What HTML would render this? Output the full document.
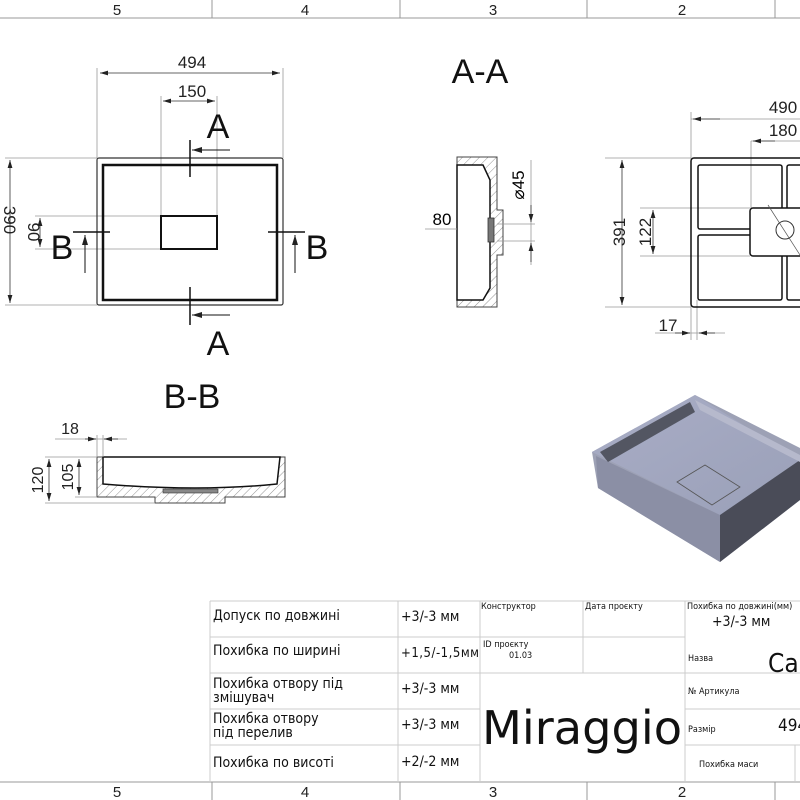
<!DOCTYPE html>
<html><head><meta charset="utf-8"><style>
html,body{margin:0;padding:0;background:#fff;width:800px;height:800px;overflow:hidden}
svg{display:block;font-family:"Liberation Sans",sans-serif}
.t{font-family:"DejaVu Sans Condensed","DejaVu Sans","Liberation Sans",sans-serif}
</style></head><body>
<svg width="800" height="800" viewBox="0 0 800 800" xmlns="http://www.w3.org/2000/svg">
<defs>
<pattern id="h" width="6" height="6" patternUnits="userSpaceOnUse" patternTransform="rotate(45)">
<line x1="0" y1="0" x2="0" y2="6" stroke="#777" stroke-width="0.8"/></pattern>
<marker id="ar" markerWidth="10" markerHeight="6" refX="10" refY="3" orient="auto"><path d="M0,0 L10,3 L0,6 Z" fill="#222"/></marker>
<linearGradient id="g1" x1="0" y1="0" x2="1" y2="1"><stop offset="0" stop-color="#a9adc6"/><stop offset="1" stop-color="#9aa0b8"/></linearGradient>
</defs>
<g stroke="#999" stroke-width="1" fill="none">
<line x1="0" y1="18" x2="800" y2="18"/><line x1="0" y1="782" x2="800" y2="782"/>
<line x1="212" y1="0" x2="212" y2="18"/><line x1="400" y1="0" x2="400" y2="18"/><line x1="587" y1="0" x2="587" y2="18"/><line x1="775" y1="0" x2="775" y2="18"/>
<line x1="212" y1="782" x2="212" y2="800"/><line x1="400" y1="782" x2="400" y2="800"/><line x1="587" y1="782" x2="587" y2="800"/><line x1="775" y1="782" x2="775" y2="800"/>
</g>
<g font-size="15" text-anchor="middle" fill="#222">
<text x="117" y="15">5</text><text x="305" y="15">4</text><text x="493" y="15">3</text><text x="682" y="15">2</text>
<text x="117" y="797">5</text><text x="305" y="797">4</text><text x="493" y="797">3</text><text x="682" y="797">2</text>
</g>
<g fill="none" stroke="#999" stroke-width="0.8">
<line x1="97" y1="68" x2="97" y2="158"/><line x1="283" y1="68" x2="283" y2="158"/>
<line x1="161" y1="96" x2="161" y2="216"/><line x1="217" y1="96" x2="217" y2="216"/>
<line x1="5" y1="158" x2="97" y2="158"/><line x1="5" y1="305" x2="97" y2="305"/>
<line x1="35" y1="216" x2="161" y2="216"/><line x1="35" y1="249" x2="161" y2="249"/>
</g>
<g stroke="#333" stroke-width="0.8" marker-end="url(#ar)">
<line x1="190" y1="73" x2="280" y2="73"/><line x1="190" y1="73" x2="100" y2="73"/>
<line x1="190" y1="101" x2="163" y2="101"/><line x1="190" y1="101" x2="215" y2="101"/>
<line x1="10" y1="230" x2="10" y2="160"/><line x1="10" y1="230" x2="10" y2="303"/>
<line x1="40" y1="232" x2="40" y2="218"/><line x1="40" y1="232" x2="40" y2="247"/>
</g>
<g font-size="17" fill="#222" text-anchor="middle">
<text x="192" y="68">494</text><text x="192" y="97">150</text>
<text transform="translate(4,220) rotate(90)">390</text>
<text transform="translate(28,232) rotate(90)">90</text>
</g>
<rect x="97" y="158" width="186" height="147" rx="2" fill="none" stroke="#333" stroke-width="1.2"/>
<rect x="103" y="165" width="174" height="135" fill="none" stroke="#111" stroke-width="2.5"/>
<rect x="161" y="216" width="56" height="33" fill="none" stroke="#111" stroke-width="2"/>
<g stroke="#111" stroke-width="1.5">
<line x1="190" y1="140" x2="190" y2="177"/><line x1="190" y1="287" x2="190" y2="325"/>
<line x1="73" y1="232" x2="110" y2="232"/><line x1="268" y1="232" x2="305" y2="232"/>
</g>
<g stroke="#111" stroke-width="1" marker-end="url(#ar)">
<line x1="230" y1="150" x2="192" y2="150"/><line x1="230" y1="315" x2="192" y2="315"/>
<line x1="85" y1="273" x2="85" y2="235"/><line x1="295" y1="273" x2="295" y2="235"/>
</g>
<g font-size="34" fill="#111" text-anchor="middle">
<text x="218" y="138">A</text><text x="218" y="355">A</text>
<text x="62" y="259">B</text><text x="317" y="259">B</text>
<text x="480" y="83">A-A</text><text x="192" y="408">B-B</text>
</g>
<path d="M457,157 H497 V210 H503 V255 H497 V307 H457 Z" fill="url(#h)" stroke="#444" stroke-width="1"/>
<path d="M457,165 H483 L490,180 V288 L483,300 H457 Z" fill="#fff" stroke="#111" stroke-width="1.5"/>
<rect x="488" y="218" width="6" height="24" fill="#777" stroke="#333" stroke-width="0.8"/>
<g stroke="#999" stroke-width="0.8"><line x1="497" y1="224" x2="535" y2="224"/><line x1="497" y1="241" x2="535" y2="241"/><line x1="531" y1="160" x2="531" y2="265"/><line x1="425" y1="229" x2="457" y2="229"/></g>
<g stroke="#333" stroke-width="0.8" marker-end="url(#ar)"><line x1="531" y1="205" x2="531" y2="222"/><line x1="531" y1="262" x2="531" y2="243"/></g>
<text x="442" y="225" font-size="17" text-anchor="middle">80</text>
<text transform="translate(524,185) rotate(-90)" font-size="17" text-anchor="middle">⌀45</text>
<g stroke="#999" stroke-width="0.8" fill="none">
<line x1="691" y1="112" x2="691" y2="340"/><line x1="697" y1="300" x2="697" y2="340"/>
<line x1="751" y1="141" x2="751" y2="208"/>
<line x1="605" y1="158" x2="691" y2="158"/><line x1="605" y1="307" x2="691" y2="307"/>
<line x1="640" y1="208" x2="750" y2="208"/><line x1="640" y1="256" x2="750" y2="256"/>
<line x1="691" y1="119" x2="800" y2="119"/><line x1="751" y1="141" x2="800" y2="141"/>
<line x1="655" y1="333" x2="725" y2="333"/>
</g>
<g stroke="#333" stroke-width="0.8" marker-end="url(#ar)">
<line x1="720" y1="119" x2="693" y2="119"/><line x1="775" y1="141" x2="753" y2="141"/>
<line x1="622" y1="232" x2="622" y2="160"/><line x1="622" y1="232" x2="622" y2="305"/>
<line x1="653" y1="232" x2="653" y2="210"/><line x1="653" y1="232" x2="653" y2="254"/>
<line x1="675" y1="333" x2="690" y2="333"/><line x1="715" y1="333" x2="699" y2="333"/>
</g>
<g font-size="17" fill="#222" text-anchor="middle">
<text x="783" y="113">490</text><text x="783" y="136">180</text>
<text transform="translate(625,232) rotate(-90)">391</text>
<text transform="translate(651,232) rotate(-90)">122</text>
<text x="668" y="331">17</text>
</g>
<rect x="691" y="158" width="120" height="149" rx="3" fill="none" stroke="#111" stroke-width="1.5"/>
<g fill="none" stroke="#111" stroke-width="1.5">
<rect x="698" y="165" width="84" height="64" rx="2"/><rect x="698" y="235" width="84" height="65" rx="2"/>
<rect x="787" y="165" width="20" height="64" rx="2"/><rect x="787" y="235" width="20" height="65" rx="2"/>
</g>
<rect x="750" y="208" width="60" height="48" rx="3" fill="#fff" stroke="#111" stroke-width="1.5"/>
<circle cx="785" cy="230" r="9" fill="none" stroke="#333"/>
<line x1="768" y1="205" x2="800" y2="255" stroke="#555" stroke-width="0.7"/>
<path d="M97,457 H285 V497 H225 V503 H155 V497 H97 Z" fill="url(#h)" stroke="#444" stroke-width="1"/>
<path d="M103,457 H280 L277,484 Q200,492 103,484 Z" fill="#fff" stroke="#111" stroke-width="1.5"/>
<rect x="163" y="489" width="55" height="4" fill="#888" stroke="#333" stroke-width="0.6"/>
<g stroke="#999" stroke-width="0.8"><line x1="45" y1="457" x2="97" y2="457"/><line x1="45" y1="503" x2="155" y2="503"/><line x1="75" y1="497" x2="97" y2="497"/>
<line x1="97" y1="435" x2="97" y2="457"/><line x1="103" y1="435" x2="103" y2="457"/><line x1="55" y1="439" x2="127" y2="439"/></g>
<g stroke="#333" stroke-width="0.8" marker-end="url(#ar)">
<line x1="85" y1="439" x2="96" y2="439"/><line x1="118" y1="439" x2="104" y2="439"/>
<line x1="49" y1="480" x2="49" y2="459"/><line x1="49" y1="480" x2="49" y2="501"/>
<line x1="79" y1="477" x2="79" y2="459"/><line x1="79" y1="477" x2="79" y2="495"/>
</g>
<g font-size="16" fill="#222" text-anchor="middle">
<text x="70" y="434">18</text>
<text transform="translate(43,480) rotate(-90)">120</text>
<text transform="translate(73,477) rotate(-90)">105</text>
</g>
<polygon points="592,452 695,395 800,448 800,500 720,562 598,488" fill="#9da1b5"/>
<polygon points="592,452 695,395 800,460 720,515" fill="url(#g1)"/>
<polygon points="596,456 720,515 720,562 598,488" fill="#8b8fa5"/>
<polygon points="720,515 800,460 800,500 720,562" fill="#4a4c58"/>
<polygon points="600,452 690,402 695,412 608,462" fill="#4a4c58" opacity="0.9"/>
<polygon points="695,400 800,455 800,462 700,410" fill="#b6b9cc"/>
<polygon points="677,482 705,465 740,487 712,505" fill="none" stroke="#555" stroke-width="0.8"/>
<g stroke="#ccc" stroke-width="1" fill="none">
<line x1="210" y1="601" x2="800" y2="601"/>
<line x1="210" y1="637" x2="480" y2="637"/><line x1="480" y1="637" x2="685" y2="637"/>
<line x1="210" y1="673" x2="685" y2="673"/><line x1="685" y1="673" x2="800" y2="673"/>
<line x1="210" y1="709" x2="480" y2="709"/><line x1="685" y1="709" x2="800" y2="709"/>
<line x1="210" y1="745" x2="480" y2="745"/><line x1="685" y1="745" x2="800" y2="745"/>
<line x1="210" y1="601" x2="210" y2="782"/><line x1="398" y1="601" x2="398" y2="782"/>
<line x1="480" y1="601" x2="480" y2="782"/><line x1="583" y1="601" x2="583" y2="673"/>
<line x1="685" y1="601" x2="685" y2="782"/><line x1="795" y1="745" x2="795" y2="782"/>
</g>
<g class="t" fill="#111">
<g font-size="14">
<text x="213" y="620">Допуск по довжині</text>
<text x="213" y="655">Похибка по ширині</text>
<text x="213" y="688">Похибка отвору під</text><text x="213" y="702">змішувач</text>
<text x="213" y="723">Похибка отвору</text><text x="213" y="737">під перелив</text>
<text x="213" y="767">Похибка по висоті</text>
<text x="401" y="693">+3/-3 мм</text><text x="401" y="621">+3/-3 мм</text>
<text x="401" y="657" font-size="13" textLength="78">+1,5/-1,5мм</text>
<text x="401" y="729">+3/-3 мм</text><text x="401" y="766">+2/-2 мм</text>
<text x="712" y="626">+3/-3 мм</text>
</g>
<g font-size="9">
<text x="481" y="609">Конструктор</text><text x="585" y="609">Дата проєкту</text>
<text x="483" y="647">ID проєкту</text><text x="509" y="658">01.03</text>
<text x="687" y="609">Похибка по довжині(мм)</text>
<text x="688" y="661">Назва</text><text x="688" y="694">№ Артикула</text>
<text x="688" y="732">Размір</text><text x="699" y="767">Похибка маси</text>
</g>
<text x="768" y="672" font-size="26">Cap</text>
<text x="778" y="731" font-size="17">494</text>
<text x="482" y="744" font-size="46" textLength="200" lengthAdjust="spacingAndGlyphs">Miraggio</text>
</g>
</svg>
</body></html>
